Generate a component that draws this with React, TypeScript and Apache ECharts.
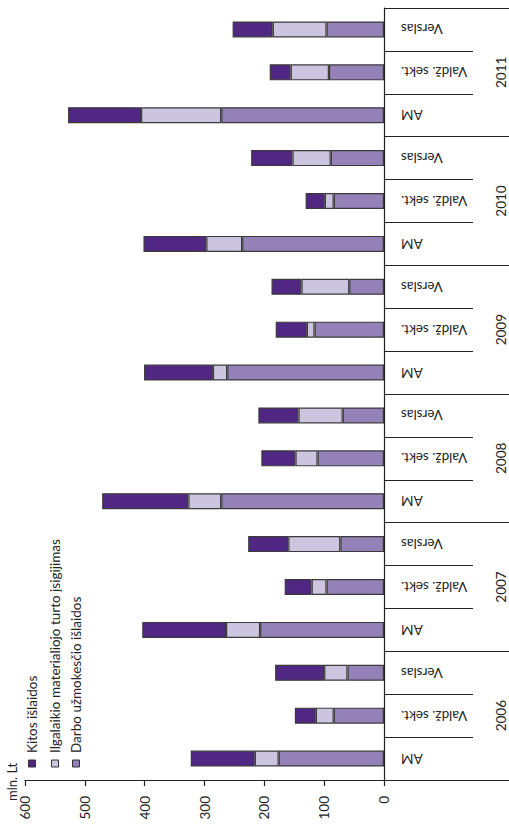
import React, { useEffect, useRef } from "react";
import * as echarts from "echarts";

const groups = ["AM", "Valdž. sekt.", "Verslas"];
const years = ["2006", "2007", "2008", "2009", "2010", "2011"];
const categories = years.flatMap(() => groups);

const seriesNames = [
  "Darbo užmokesčio išlaidos",
  "Ilgalaikio materialiojo turto įsigijimas",
  "Kitos išlaidos",
];
const darbo = [176, 84, 61, 207, 96, 73, 272, 111, 69, 262, 116, 58, 237, 84, 89, 272, 92, 96];
const ilgalaikio = [40, 30, 39, 57, 25, 87, 55, 37, 74, 24, 13, 80, 60, 15, 64, 134, 64, 90];
const kitos = [107, 35, 82, 140, 45, 67, 144, 57, 67, 115, 52, 50, 105, 32, 69, 122, 35, 67];
const valueTicks = [0, 100, 200, 300, 400, 500, 600];
const unitLabel = "mln. Lt";

const colors = ["#9381b8", "#cdc4e0", "#512784"];
const FONT = "Lato";

export default function App() {
  const ref = useRef<HTMLDivElement>(null);
  useEffect(() => {
    if (!ref.current) return;
    const chart = echarts.init(ref.current, undefined, { renderer: "svg" });
    const values = [darbo, ilgalaikio, kitos];
    const legendOrder = [2, 1, 0];
    const legendX = [32, 55, 76];
    const graphics: any[] = [];
    legendOrder.forEach((si, k) => {
      graphics.push({
        type: "rect",
        shape: { x: legendX[k] - 3.5, y: 760, width: 7, height: 7 },
        style: { fill: colors[si], stroke: "#333", lineWidth: 1 },
      });
      graphics.push({
        type: "text",
        x: legendX[k],
        y: 753,
        rotation: Math.PI / 2,
        style: {
          text: seriesNames[si],
          fontSize: 13.5,
          fontFamily: FONT,
          fill: "#222",
          align: "left",
          verticalAlign: "middle",
        },
      });
    });
    graphics.push({
      type: "text",
      x: 12,
      y: 801,
      rotation: Math.PI / 2,
      style: {
        text: unitLabel,
        fontSize: 13,
        fontFamily: FONT,
        fill: "#222",
        align: "left",
        verticalAlign: "middle",
      },
    });

    chart.setOption({
      animation: false,
      backgroundColor: "#fff",
      grid: { left: 25, right: 125, top: 8, bottom: 45, containLabel: false },
      xAxis: {
        type: "value",
        inverse: true,
        min: valueTicks[0],
        max: valueTicks[valueTicks.length - 1],
        interval: 100,
        axisLine: { show: true, lineStyle: { color: "#222", width: 1.2 } },
        axisTick: { show: true, length: 6, lineStyle: { color: "#222", width: 1.2 } },
        splitLine: { show: false },
        axisLabel: {
          rotate: 90,
          margin: 16,
          fontSize: 13.5,
          fontFamily: FONT,
          color: "#222",
        },
      },
      yAxis: [
        {
          type: "category",
          position: "right",
          data: categories,
          axisLine: { show: true, onZero: false, lineStyle: { color: "#222", width: 1.2 } },
          axisTick: { show: true, length: 89, lineStyle: { color: "#222", width: 1.2 } },
          axisLabel: {
            rotate: 180,
            margin: 17,
            fontSize: 13.5,
            fontFamily: FONT,
            color: "#222",
          },
        },
        {
          type: "category",
          position: "right",
          data: years,
          axisLine: { show: false, onZero: false },
          axisTick: { show: true, length: 125, lineStyle: { color: "#222", width: 1.2 } },
          axisLabel: {
            rotate: 90,
            margin: 110,
            fontSize: 13.5,
            fontFamily: FONT,
            color: "#222",
          },
        },
      ],
      series: seriesNames.map((name, i) => ({
        name,
        type: "bar",
        stack: "total",
        yAxisIndex: 0,
        barWidth: 16,
        data: values[i],
        itemStyle: { color: colors[i], borderColor: "#3a3a3a", borderWidth: 1.2 },
      })),
      graphic: graphics,
    });
    return () => chart.dispose();
  }, []);
  return (
    <div
      ref={ref}
      style={{ position: "fixed", left: 0, top: 0, width: 509, height: 825 }}
    />
  );
}
